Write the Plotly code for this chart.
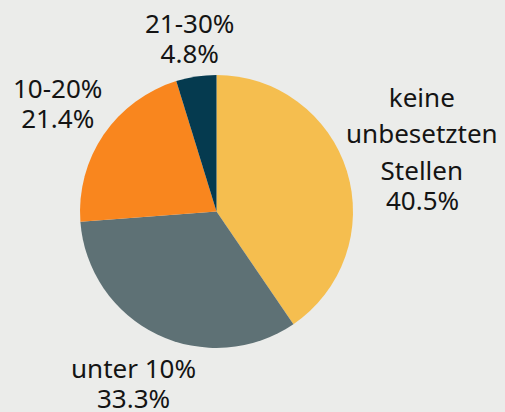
import plotly.graph_objects as go

labels = ["keine unbesetzten Stellen", "unter 10%", "10-20%", "21-30%"]
label_lines = [["keine", "unbesetzten", "Stellen"], ["unter 10%"], ["10-20%"], ["21-30%"]]
values = [17, 14, 9, 2]
colors = ["#F5BE4F", "#5E7175", "#F9861E", "#053A4F"]

# label block centres (pixels from top-left of the 505x412 figure)
W, H = 505, 412
name_pos = [(422, 133.5), None, None, None]
block_pos = [(422, 200), (133.5, 383), (57.5, 103), (189.5, 38.25)]
FONT = "Noto Sans"
FS = 26

total = sum(values)
pcts = [f"{v / total * 100:.1f}%" for v in values]

fig = go.Figure(go.Pie(
    labels=labels,
    values=values,
    sort=False,
    direction="clockwise",
    rotation=0,
    marker=dict(colors=colors, line=dict(width=0)),
    textinfo="none",
    domain=dict(x=[80 / W, 353 / W], y=[1 - 348 / H, 1 - 75 / H]),
    showlegend=False,
    hoverinfo="skip",
))


def span(t):
    return f"<span style='font-size:{FS}px'>{t}</span>"


for lines, npos, pct, (bx, by) in zip(label_lines, name_pos, pcts, block_pos):
    if npos is not None:
        # multi-line name with wider spacing, percentage as its own line
        fig.add_annotation(
            x=npos[0] / W, y=1 - npos[1] / H, xref="paper", yref="paper",
            text="<br>".join(span(l) for l in lines), showarrow=False,
            xanchor="center", yanchor="middle",
            font=dict(family=FONT, size=28, color="#141414"),
        )
        fig.add_annotation(
            x=bx / W, y=1 - by / H, xref="paper", yref="paper",
            text=span(pct), showarrow=False,
            xanchor="center", yanchor="middle",
            font=dict(family=FONT, size=FS, color="#141414"),
        )
    else:
        fig.add_annotation(
            x=bx / W, y=1 - by / H, xref="paper", yref="paper",
            text="<br>".join(span(l) for l in lines + [pct]), showarrow=False,
            xanchor="center", yanchor="middle",
            font=dict(family=FONT, size=23, color="#141414"),
        )

fig.update_layout(
    width=W, height=H,
    margin=dict(l=0, r=0, t=0, b=0),
    paper_bgcolor="#EBECEA",
    plot_bgcolor="#EBECEA",
)
fig.write_html(
    "out.html",
    config={"displayModeBar": False},
    post_script="document.body.style.margin='0';document.body.style.overflow='hidden';",
)
